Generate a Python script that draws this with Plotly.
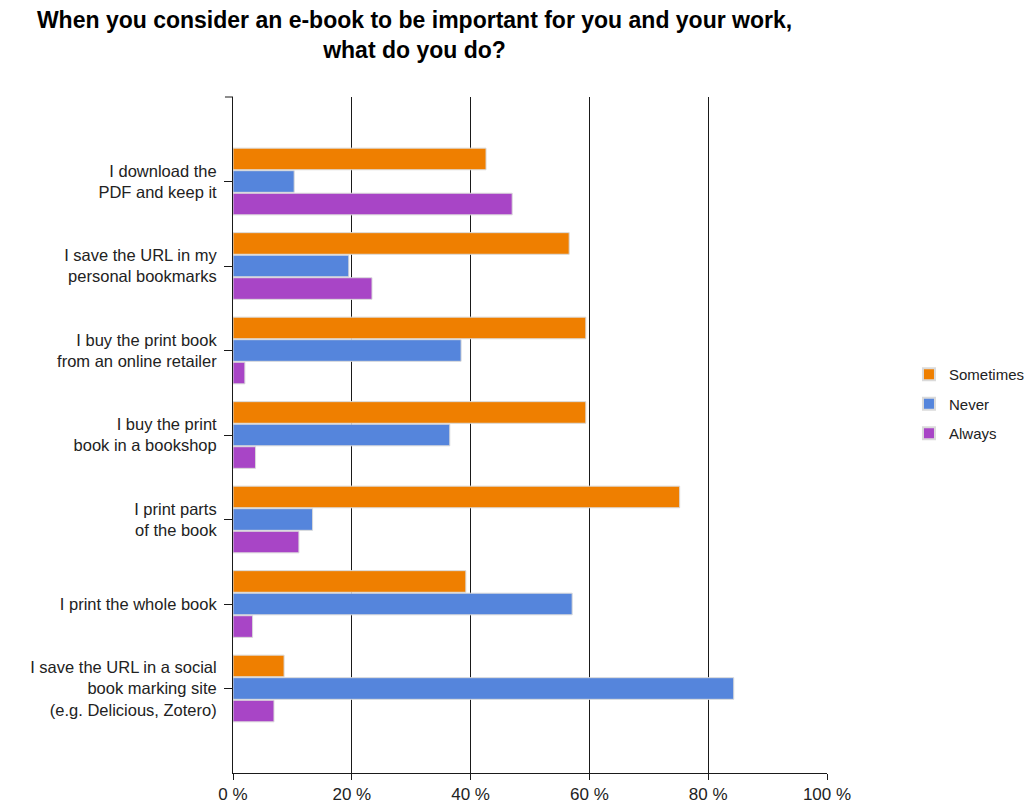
import plotly.graph_objects as go

categories = [
    "I download the<br>PDF and keep it",
    "I save the URL in my<br>personal bookmarks",
    "I buy the print book<br>from an online retailer",
    "I buy the print<br>book in a bookshop",
    "I print parts<br>of the book",
    "I print the whole book",
    "I save the URL in a social<br>book marking site<br>(e.g. Delicious, Zotero)",
]
sometimes = [42.6, 56.6, 59.4, 59.4, 75.2, 39.2, 8.6]
never = [10.3, 19.5, 38.4, 36.5, 13.4, 57.1, 84.3]
always = [47.0, 23.4, 2.0, 3.8, 11.1, 3.3, 6.9]
series_names = ["Sometimes", "Never", "Always"]
series_colors = ["#EF7F00", "#5585DC", "#A845C6"]
x_ticks = [0, 20, 40, 60, 80, 100]
x_ticktext = ["0 %", "20 %", "40 %", "60 %", "80 %", "100 %"]

FONT = "Liberation Sans, Arial, sans-serif"

fig = go.Figure()
for name, vals, col in zip(series_names, [sometimes, never, always], series_colors):
    fig.add_trace(go.Bar(
        y=categories, x=vals, name=name, orientation="h", legendgroup=name,
        marker=dict(color=col, line=dict(color="#DADADA", width=1)),
    ))

# the page body adds an 8px margin, so the figure is sized to fit inside the window
fig.update_layout(
    width=1024, height=797,
    paper_bgcolor="white", plot_bgcolor="white",
    margin=dict(l=225, r=205, t=89, b=32, autoexpand=False),
    barmode="group", bargap=0.2, bargroupgap=0.04,
    font=dict(family=FONT, size=16, color="#222"),
    title=dict(
        text="<b>When you consider an e-book to be important for you and your work,<br>what do you do?</b>",
        x=0.397, xanchor="center", y=0.975, yanchor="top",
        font=dict(family=FONT, size=23, color="black"),
    ),
    legend=dict(
        x=1.138, xanchor="left", y=0.614, yanchor="top",
        font=dict(family=FONT, size=15, color="#222"),
        tracegroupgap=7, itemsizing="constant",
    ),
    xaxis=dict(
        range=[0, 100], tickvals=x_ticks, ticktext=x_ticktext,
        showgrid=True, gridcolor="#1a1a1a", gridwidth=1,
        zeroline=False, showline=True, linecolor="#1a1a1a", linewidth=1,
        ticks="outside", ticklen=6, tickcolor="#1a1a1a", automargin=False,
        tickfont=dict(family=FONT, size=17, color="#222"),
    ),
    yaxis=dict(
        type="category", range=[len(categories), -1],
        showline=True, linecolor="#1a1a1a", linewidth=1,
        ticks="outside", ticklen=8, tickcolor="#1a1a1a", automargin=False,
        ticklabelstandoff=4,
        showgrid=False, zeroline=False,
        tickfont=dict(family=FONT, size=16.5, color="#222"),
    ),
)
# small tick at the top of the category axis
fig.add_shape(type="line", xref="paper", yref="paper", x0=-0.0135, x1=0, y0=1, y1=1,
              line=dict(color="#1a1a1a", width=1))

fig.write_html("out.html")
